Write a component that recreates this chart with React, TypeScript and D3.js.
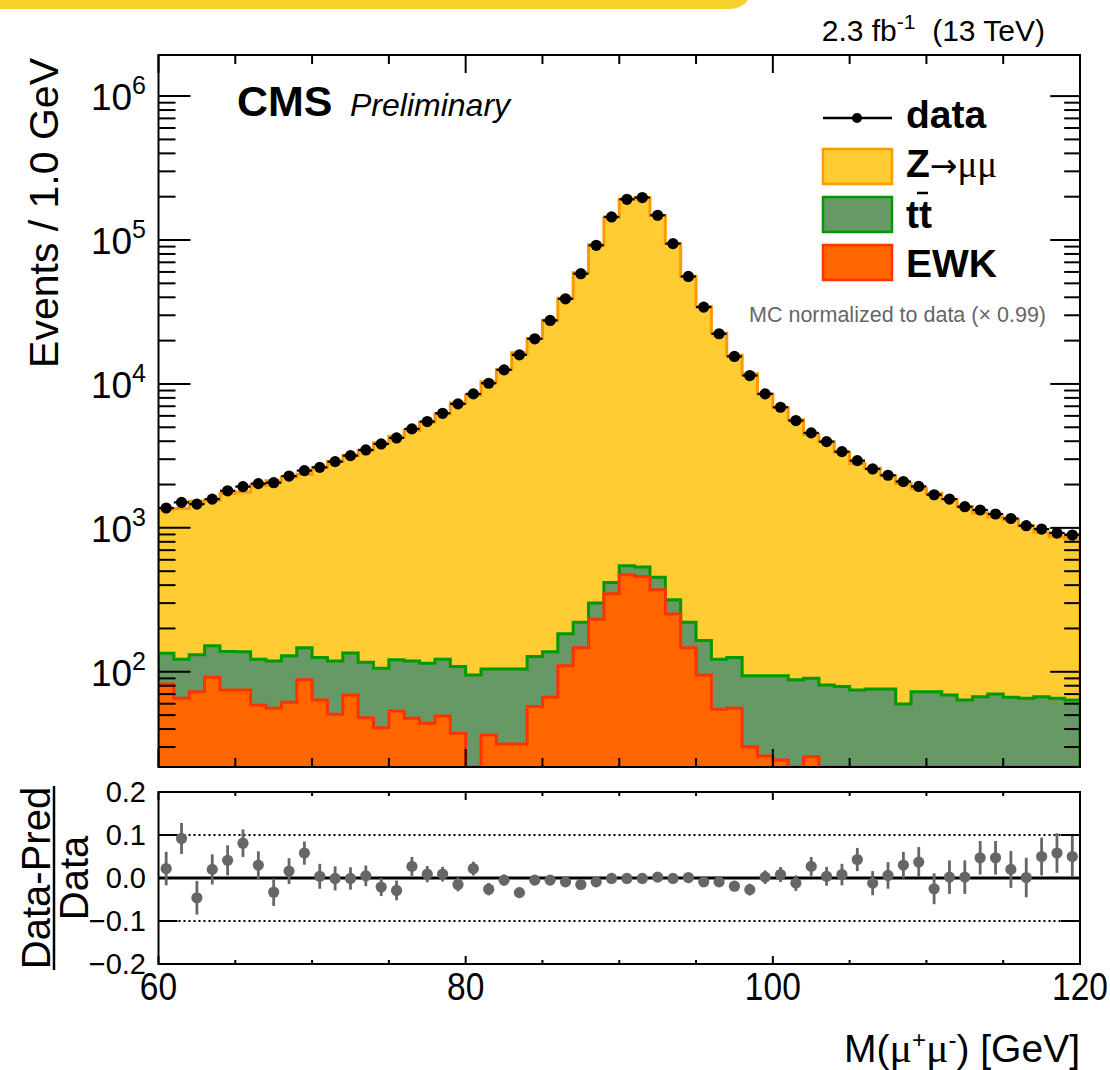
import React from "react";
import * as d3 from "d3";

// ---- data ----
const massLow = d3.range(60, 120); // 1 GeV bins, 60..120

const dataCounts = [
  1374, 1503, 1462, 1584, 1810, 1935, 2030, 2060, 2290, 2500,
  2633, 2884, 3176, 3478, 3828, 4215, 4873, 5476, 6254, 7267,
  8530, 10110, 12530, 15930, 20590, 27620, 39060, 58340, 91880, 144600,
  191900, 197200, 148600, 94400, 55860, 34200, 22330, 15530, 11440, 8530,
  6890, 5565, 4570, 3975, 3385, 2932, 2567, 2320, 2100, 1940,
  1699, 1585, 1403, 1331, 1248, 1162, 1035, 981, 920, 891,
];

const zmmVals = [
  1209, 1242, 1398, 1401, 1598, 1640, 1847, 2009, 2124, 2208,
  2497, 2768, 3044, 3344, 3802, 4216, 4622, 5312, 6076, 7267,
  8247, 10268, 12488, 16367, 20565, 27620, 39228, 58994, 92407, 144327,
  191546, 196862, 147850, 94178, 55583, 34343, 22409, 15699, 11655, 8419,
  6741, 5544, 4356, 3878, 3279, 2731, 2522, 2230, 1977, 1795,
  1668, 1513, 1336, 1201, 1119, 1072, 968, 865, 801, 782,
];

const ttbarVals = [
  52.3, 56.9, 58.4, 59.8, 63.5, 63.2, 63.1, 63.1, 67.6, 59.1,
  61.9, 68.3, 66, 68.6, 65.1, 67.5, 71.5, 70.9, 72.7, 71.3,
  80, 68.3, 73.2, 73.2, 70.3, 71.5, 73.7, 74, 68, 70,
  74, 76, 82, 64, 74, 70, 67, 69.8, 63.9, 68,
  69.6, 72.9, 64.6, 69.1, 66.9, 62.8, 64, 64, 47.8, 60.8,
  60.8, 57, 51.7, 55.2, 58.2, 54.5, 53.5, 55.2, 53.5, 51.7,
];

const ewkVals = [
  82.4, 65.5, 72.8, 91.7, 74.8, 74.8, 58.9, 55.9, 61.4, 87.9,
  63.7, 50.7, 69, 48, 40.9, 53.5, 47.5, 43.9, 49.3, 37.4,
  15, 36.4, 31.5, 31.5, 57.3, 66.5, 110, 147, 232, 348,
  472, 459, 371, 252, 147, 95, 55, 55.8, 30.1, 26,
  24.4, 15, 25.7, 12, 12, 12, 12, 12, 12, 12,
  12, 12, 12, 12, 12, 12, 12, 12, 12, 12,
];

const ratioVals = [
  0.022, 0.092, -0.046, 0.02, 0.041, 0.081, 0.03, -0.033, 0.016, 0.058,
  0.004, -0.001, -0.001, 0.005, -0.021, -0.029, 0.027, 0.009, 0.009, -0.015,
  0.022, -0.026, -0.005, -0.034, -0.005, -0.005, -0.009, -0.015, -0.009, -0.001,
  -0.001, -0.001, 0.002, -0.001, 0.001, -0.009, -0.009, -0.019, -0.027, 0.002,
  0.008, -0.012, 0.027, 0.004, 0.008, 0.043, -0.012, 0.006, 0.03, 0.037,
  -0.025, 0.002, 0.002, 0.047, 0.047, 0.02, 0.001, 0.05, 0.058, 0.05,
];

const ratioErrs = [
  0.039, 0.036, 0.039, 0.035, 0.035, 0.032, 0.032, 0.032, 0.03, 0.027,
  0.029, 0.028, 0.026, 0.024, 0.021, 0.023, 0.022, 0.019, 0.017, 0.016,
  0.016, 0.0144, 0.013, 0.0115, 0.01, 0.0087, 0.0073, 0.006, 0.0048, 0.0038,
  0.0033, 0.0033, 0.0038, 0.0047, 0.0061, 0.0078, 0.0097, 0.0116, 0.0136, 0.0157,
  0.0175, 0.018, 0.022, 0.022, 0.025, 0.027, 0.028, 0.031, 0.031, 0.035,
  0.036, 0.039, 0.039, 0.039, 0.039, 0.043, 0.046, 0.044, 0.046, 0.048,
];

const xMajorTicks = [60, 80, 100, 120];
const xMinorTicks = [65, 70, 75, 85, 90, 95, 105, 110, 115];
const yDecades = [2, 3, 4, 5, 6];
const ratioTicks = [-0.2, -0.1, 0, 0.1, 0.2];
const ratioTickLabels = ["\u22120.2", "\u22120.1", "0.0", "0.1", "0.2"];

// ---- layout ----
const W = 1110;
const H = 1070;
const L = 158.5;
const R = 1080;
const mainTop = 55;
const mainBot = 767;
const ratTop = 792;
const ratBot = 964;
const YMIN = 21.8;
const YMAX = 1.93e6;
const FONT = "'Liberation Sans', Arial, Helvetica, sans-serif";
const SERIF = "'Liberation Serif', 'DejaVu Serif', serif";

const x = d3.scaleLinear().domain([60, 120]).range([L, R]);
const y = d3.scaleLog().domain([YMIN, YMAX]).range([mainBot, mainTop]);
const yr = d3.scaleLinear().domain([-0.2, 0.2]).range([ratBot, ratTop]);

function stepPath(vals: number[]) {
  const pts: [number, number][] = [];
  pts.push([x(massLow[0]), mainBot + 5]);
  vals.forEach((v, i) => {
    const yy = y(Math.max(v, YMIN));
    pts.push([x(massLow[i]), yy]);
    pts.push([x(massLow[i] + 1), yy]);
  });
  pts.push([x(massLow[massLow.length - 1] + 1), mainBot + 5]);
  return d3.line()(pts) as string;
}

export default function App() {
  const ttCum = ttbarVals.map((v, i) => v + ewkVals[i]);
  const total = zmmVals.map((v, i) => v + ttCum[i]);
  const yTicks = y.ticks().filter((t) => t >= YMIN && t <= YMAX);
  const isMajor = (t: number) => Math.abs(Math.log10(t) - Math.round(Math.log10(t))) < 1e-6;

  return (
    <svg
      width={W}
      height={H}
      viewBox={`0 0 ${W} ${H}`}
      style={{ position: "absolute", left: 0, top: 0, background: "#fff" }}
      fontFamily={FONT}
    >
      <defs>
        <clipPath id="mainClip">
          <rect x={L} y={mainTop} width={R - L} height={mainBot - mainTop} />
        </clipPath>
      </defs>
      <rect x={0} y={0} width={W} height={H} fill="#fff" />
      {/* decorative slide bar */}
      <path d="M0,0 H748 Q742,9 728,9 H0 Z" fill="#f7d22b" />

      {/* stacked histograms */}
      <g clipPath="url(#mainClip)">
        <path d={stepPath(total)} fill="#ffcc33" stroke="#ff9900" strokeWidth={3} />
        <path d={stepPath(ttCum)} fill="#669966" stroke="#009900" strokeWidth={3} />
        <path d={stepPath(ewkVals)} fill="#ff6600" stroke="#ff3300" strokeWidth={3} />
      </g>

      {/* data points */}
      <g>
        {dataCounts.map((v, i) => {
          const cx = x(massLow[i] + 0.5);
          const cy = y(v);
          return (
            <g key={i}>
              <line x1={x(massLow[i])} x2={x(massLow[i] + 1)} y1={cy} y2={cy} stroke="#000" strokeWidth={2.2} />
              <circle cx={cx} cy={cy} r={5.6} fill="#000" />
            </g>
          );
        })}
      </g>

      {/* main frame and ticks */}
      <rect x={L} y={mainTop} width={R - L} height={mainBot - mainTop} fill="none" stroke="#000" strokeWidth={2} />
      {yTicks.map((t, i) => {
        const len = isMajor(t) ? 32 : 17;
        const yy = y(t);
        return (
          <g key={"yt" + i} stroke="#000" strokeWidth={2}>
            <line x1={L} x2={L + len} y1={yy} y2={yy} />
            <line x1={R} x2={R - len * 0.93} y1={yy} y2={yy} />
          </g>
        );
      })}
      {xMajorTicks.concat(xMinorTicks).map((t, i) => {
        const maj = xMajorTicks.includes(t);
        const xx = x(t);
        return (
          <g key={"xt" + i} stroke="#000" strokeWidth={2}>
            <line x1={xx} x2={xx} y1={mainBot} y2={mainBot - (maj ? 18 : 9)} />
            <line x1={xx} x2={xx} y1={mainTop} y2={mainTop + (maj ? 18 : 9)} />
            <line x1={xx} x2={xx} y1={ratBot} y2={ratBot - (maj ? 8 : 4)} />
            <line x1={xx} x2={xx} y1={ratTop} y2={ratTop + (maj ? 8 : 4)} />
          </g>
        );
      })}

      {/* y tick labels main */}
      {yDecades.map((d) => (
        <text key={"yl" + d} x={146} y={y(Math.pow(10, d)) + 14} textAnchor="end" fontSize={37} fill="#000">
          10
          <tspan dy={-16} fontSize={25}>{d}</tspan>
        </text>
      ))}

      {/* y title */}
      <text
        transform={`translate(58,58) rotate(-90)`}
        textAnchor="end"
        fontSize={41}
        fill="#000"
      >
        Events / 1.0 GeV
      </text>

      {/* CMS label */}
      <text x={237} y={116} fontSize={43} fontWeight="bold" fill="#000">CMS</text>
      <text x={350} y={116} fontSize={32} fontStyle="italic" fill="#000">Preliminary</text>

      {/* lumi */}
      <text x={1045} y={41} textAnchor="end" fontSize={30} fill="#000">
        2.3 fb<tspan dy={-12} fontSize={21}>-1</tspan>
        <tspan dy={12}>{"\u00a0\u00a0(13 TeV)"}</tspan>
      </text>

      {/* legend */}
      <g>
        <line x1={823} x2={892} y1={118} y2={118} stroke="#000" strokeWidth={2.5} />
        <circle cx={857} cy={118} r={5} fill="#000" />
        <text x={906} y={128} fontSize={39} fontWeight="bold">data</text>

        <rect x={823} y={149} width={69} height={35} fill="#ffcc33" stroke="#ff9900" strokeWidth={2.5} />
        <text x={906} y={177} fontSize={39}>
          <tspan fontWeight="bold">Z</tspan>
          <tspan fontFamily="'DejaVu Sans', sans-serif" fontSize={33}>{"\u2192"}</tspan>
          <tspan fontFamily={SERIF} fontSize={37}>{"\u03bc\u03bc"}</tspan>
        </text>

        <rect x={823} y={197} width={69} height={35} fill="#669966" stroke="#009900" strokeWidth={2.5} />
        <text x={906} y={228} fontSize={39} fontWeight="bold">tt</text>
        <line x1={917} x2={928} y1={193} y2={193} stroke="#000" strokeWidth={2.5} />

        <rect x={823} y={245} width={69} height={35} fill="#ff6600" stroke="#ff3300" strokeWidth={2.5} />
        <text x={906} y={277} fontSize={39} fontWeight="bold">EWK</text>
      </g>

      <text x={1046} y={322} textAnchor="end" fontSize={21.5} fill="#666">
        MC normalized to data ({"\u00d7"} 0.99)
      </text>

      {/* ratio panel */}
      <rect x={L} y={ratTop} width={R - L} height={ratBot - ratTop} fill="none" stroke="#000" strokeWidth={2} />
      {[-0.1, 0.1].map((t) => (
        <line key={"dl" + t} x1={L} x2={R} y1={yr(t)} y2={yr(t)} stroke="#000" strokeWidth={2} strokeDasharray="2,3" />
      ))}
      <line x1={L} x2={R} y1={yr(0)} y2={yr(0)} stroke="#000" strokeWidth={3} />
      {ratioTicks.map((t, i) => (
        <g key={"rt" + i} stroke="#000" strokeWidth={2}>
          <line x1={L} x2={L + 19} y1={yr(t)} y2={yr(t)} />
          <line x1={R} x2={R - 19} y1={yr(t)} y2={yr(t)} />
        </g>
      ))}
      {ratioVals.map((v, i) => {
        const cx = x(massLow[i] + 0.5);
        return (
          <g key={"rp" + i}>
            <line x1={cx} x2={cx} y1={yr(v - ratioErrs[i])} y2={yr(v + ratioErrs[i])} stroke="#666" strokeWidth={2.8} />
            <circle cx={cx} cy={yr(v)} r={5.6} fill="#666" />
          </g>
        );
      })}
      {ratioTicks.map((t, i) => (
        <text key={"rl" + i} x={146} y={yr(t) + 10} textAnchor="end" fontSize={29} fill="#000">
          {ratioTickLabels[i]}
        </text>
      ))}

      {/* ratio title */}
      <g transform={`translate(0,${(ratTop + ratBot) / 2}) rotate(-90)`}>
        <text x={0} y={50} textAnchor="middle" fontSize={40}>Data-Pred</text>
        <line x1={-92} x2={92} y1={54} y2={54} stroke="#000" strokeWidth={2.5} />
        <text x={0} y={88} textAnchor="middle" fontSize={40}>Data</text>
      </g>

      {/* x tick labels (narrow glyphs as in the reference) */}
      {xMajorTicks.map((t) => (
        <text
          key={"xl" + t}
          transform={`translate(${x(t)},1000) scale(0.86,1)`}
          textAnchor="middle"
          fontSize={39}
          fill="#000"
        >
          {t}
        </text>
      ))}

      {/* x title */}
      <text x={1080} y={1062} textAnchor="end" fontSize={39} fill="#000">
        M(<tspan fontFamily={SERIF} fontSize={42}>{"\u03bc"}</tspan>
        <tspan dy={-14} fontSize={24}>+</tspan>
        <tspan dy={14} fontFamily={SERIF} fontSize={42}>{"\u03bc"}</tspan>
        <tspan dy={-14} fontSize={24}>-</tspan>
        <tspan dy={14}>) [GeV]</tspan>
      </text>
    </svg>
  );
}
